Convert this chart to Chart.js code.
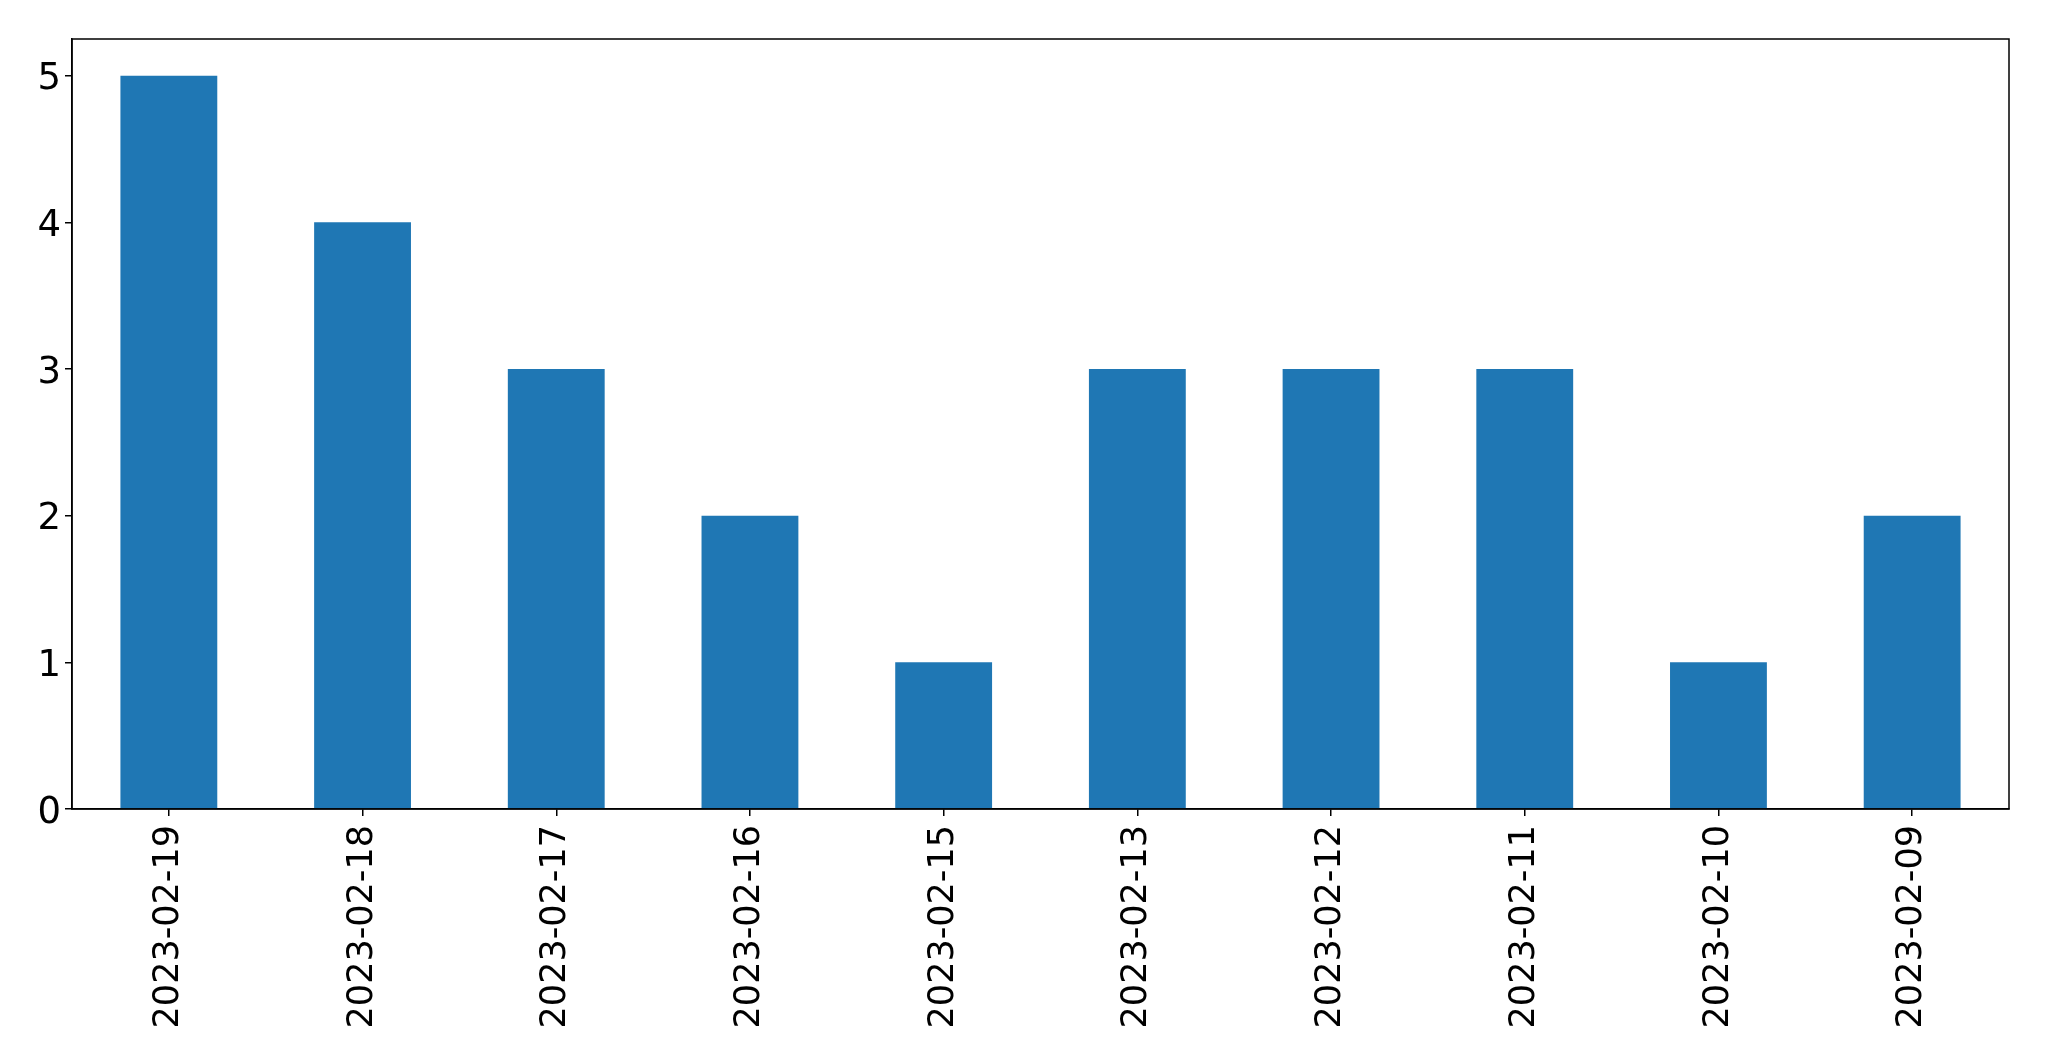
<!DOCTYPE html>
<html>
<head>
<meta charset="utf-8">
<script src="https://cdn.jsdelivr.net/npm/chart.js@4/dist/chart.umd.min.js"></script>
<style>
  html, body { margin: 0; padding: 0; background: #fff; }
  #wrap { width: 2049px; height: 1061px; }
</style>
</head>
<body>
<div id="wrap"><canvas id="grafico" width="2049" height="1061"></canvas></div>
<script>
// Datos del gráfico
const fechas = ['2023-02-19', '2023-02-18', '2023-02-17', '2023-02-16', '2023-02-15',
                '2023-02-13', '2023-02-12', '2023-02-11', '2023-02-10', '2023-02-09'];
const valores = [5, 4, 3, 2, 1, 3, 3, 3, 1, 2];
const marcasY = [0, 1, 2, 3, 4, 5];

// Marco completo alrededor del área del gráfico
const marco = {
    id: 'marco',
    afterDraw(chart) {
        const { ctx, chartArea: a } = chart;
        ctx.save();
        ctx.strokeStyle = '#000';
        ctx.lineWidth = 1.5;
        ctx.strokeRect(a.left, a.top, a.right - a.left, a.bottom - a.top);
        ctx.restore();
    }
};

const ctx = document.getElementById('grafico').getContext('2d');
new Chart(ctx, {
    type: 'bar',
    data: {
        labels: fechas,
        datasets: [{
            data: valores,
            backgroundColor: '#1f77b4',
            borderWidth: 0,
            barPercentage: 0.5,
            categoryPercentage: 1.0
        }]
    },
    options: {
        responsive: false,
        animation: false,
        devicePixelRatio: 1,
        layout: { padding: { left: 0, top: 39, right: 40, bottom: 0 } },
        plugins: {
            legend: { display: false },
            tooltip: { enabled: false }
        },
        scales: {
            x: {
                offset: true,
                grid: { display: true, offset: false, drawOnChartArea: false, drawTicks: true, tickLength: 7, color: '#000', lineWidth: 1.5 },
                border: { display: true, color: '#000', width: 1.5 },
                ticks: {
                    color: '#000',
                    font: { family: 'DejaVu Sans', size: 35 },
                    minRotation: 90,
                    maxRotation: 90,
                    autoSkip: false,
                    padding: 9
                },
                afterFit(axis) { axis.height = 252; }
            },
            y: {
                min: 0,
                max: 5.25,
                grid: { display: true, drawOnChartArea: false, drawTicks: true, tickLength: 7, color: '#000', lineWidth: 1.5 },
                border: { display: true, color: '#000', width: 1.5 },
                ticks: {
                    color: '#000',
                    font: { family: 'DejaVu Sans', size: 37 },
                    padding: 4,
                    labelOffset: 4
                },
                afterBuildTicks(axis) { axis.ticks = marcasY.map(v => ({ value: v })); },
                afterFit(axis) { axis.width = 72; }
            }
        }
    },
    plugins: [marco]
});
</script>
</body>
</html>
